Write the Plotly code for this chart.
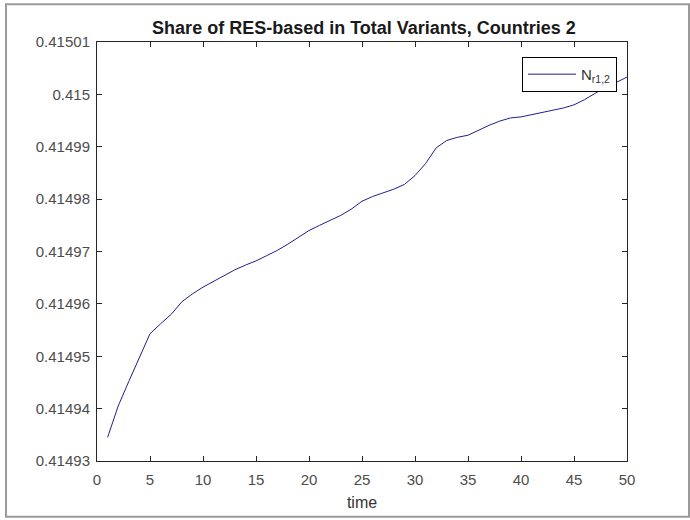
import plotly.graph_objects as go

# Simulation output: share of RES-based variants, countries group 2
time = list(range(1, 51))
share = [
    0.4149345, 0.4149405, 0.4149452, 0.4149497, 0.4149543,
    0.4149562, 0.4149580, 0.4149604, 0.4149619, 0.4149632,
    0.4149643, 0.4149654, 0.4149665, 0.4149674, 0.4149682,
    0.4149692, 0.4149702, 0.4149714, 0.4149727, 0.4149740,
    0.4149750, 0.4149759, 0.4149769, 0.4149781, 0.4149796,
    0.4149805, 0.4149812, 0.4149819, 0.4149828, 0.4149845,
    0.4149868, 0.4149898, 0.4149912, 0.4149918, 0.4149922,
    0.4149932, 0.4149941, 0.4149949, 0.4149955, 0.4149957,
    0.4149961, 0.4149966, 0.4149970, 0.4149974, 0.4149980,
    0.4149990, 0.4150002, 0.4150014, 0.4150023, 0.4150033,
]

x_ticks = [0, 5, 10, 15, 20, 25, 30, 35, 40, 45, 50]
y_ticks = [0.41493, 0.41494, 0.41495, 0.41496, 0.41497,
           0.41498, 0.41499, 0.41500, 0.41501]
y_tick_text = ["0.41493", "0.41494", "0.41495", "0.41496", "0.41497",
               "0.41498", "0.41499", "0.415", "0.41501"]

FONT = "Liberation Sans, Arial, sans-serif"
AXIS_COLOR = "#262626"
LABEL_COLOR = "#4d4d4d"

fig = go.Figure()
fig.add_trace(go.Scatter(
    x=time, y=share, mode="lines",
    line=dict(color="#1f1f8a", width=1),
    name="N<sub>r1,2</sub>",
))

axis_common = dict(
    showgrid=False, zeroline=False,
    showline=True, linecolor=AXIS_COLOR, linewidth=1,
    mirror="ticks", ticks="inside", ticklen=5, tickcolor=AXIS_COLOR,
    tickfont=dict(family=FONT, size=15, color=LABEL_COLOR),
)

fig.update_layout(
    width=690, height=520,
    margin=dict(l=97, r=63, t=42, b=57),
    paper_bgcolor="white", plot_bgcolor="white",
    font=dict(family=FONT, size=14, color="#000000"),
    title=dict(
        text="<b>Share of RES-based in Total Variants, Countries 2</b>",
        font=dict(family=FONT, size=18, color="#1a1a1a"),
        x=(153 + 575) / 2 / 690, xanchor="center",
        y=1 - 28 / 520, yanchor="middle",
    ),
    xaxis=dict(
        range=[0, 50], tickvals=x_ticks, ticklabelstandoff=5,
        title=dict(text="time", font=dict(family=FONT, size=16, color="#333333"), standoff=9),
        **axis_common,
    ),
    yaxis=dict(
        range=[0.41493, 0.41501], tickvals=y_ticks, ticktext=y_tick_text,
        ticklabelstandoff=3,
        **axis_common,
    ),
    showlegend=True,
    legend=dict(
        x=(617 - 97) / 530, xanchor="right",
        y=(463 - 57) / 421, yanchor="top",
        bgcolor="white", bordercolor="#000000", borderwidth=1,
        itemwidth=48,
        font=dict(family=FONT, size=15, color="#333333"),
    ),
    shapes=[dict(
        type="rect", xref="paper", yref="paper",
        x0=-91 / 530, x1=(689 - 97) / 530,
        y0=-56 / 421, y1=(463 - 4) / 421,
        line=dict(color="#9a9a9a", width=2), fillcolor="rgba(0,0,0,0)",
        layer="below",
    )],
)

fig.write_html("out.html")
